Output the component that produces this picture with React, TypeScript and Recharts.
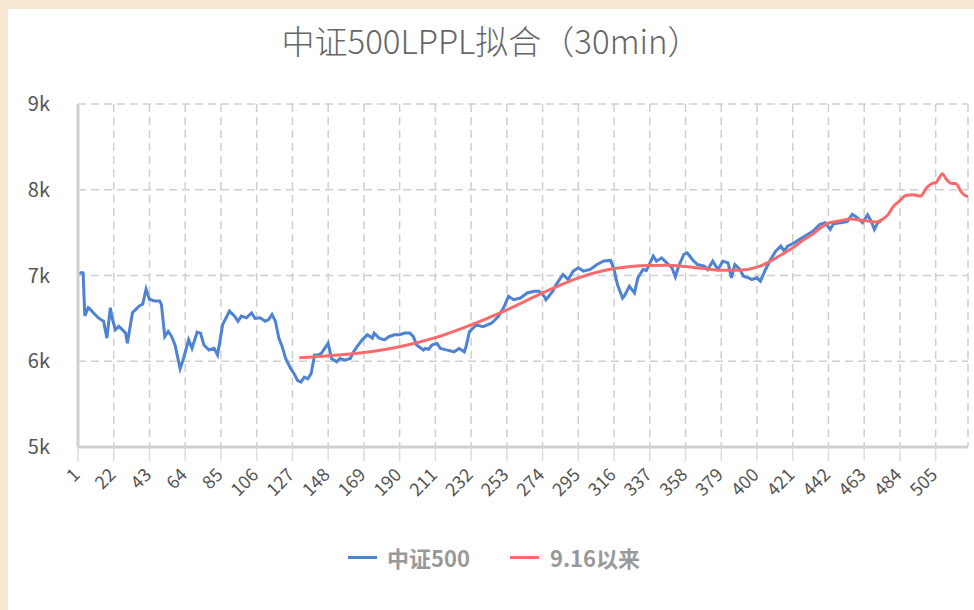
import React from 'react';
import { LineChart, Line, XAxis, YAxis, CartesianGrid, Legend } from 'recharts';

const FONT = '"Noto Sans CJK SC", "Noto Sans", sans-serif';

const TITLE = '中证500LPPL拟合（30min）';
const SERIES_BLUE = '中证500';
const SERIES_RED = '9.16以来';

const X_TICKS = [1, 22, 43, 64, 85, 106, 127, 148, 169, 190, 211, 232, 253, 274, 295, 316, 337, 358, 379, 400, 421, 442, 463, 484, 505];
const Y_TICKS = [5000, 6000, 7000, 8000, 9000];
const X_MAX = 524;

const blueIdx = [1, 3, 4, 5, 7, 8, 10, 13, 16, 18, 20, 21, 23, 25, 27, 29, 30, 33, 35, 37, 39, 41, 43, 46, 49, 50, 52, 54, 56, 58, 61, 63, 66, 68, 71, 73, 75, 78, 81, 83, 86, 90, 93, 95, 97, 100, 103, 105, 108, 111, 113, 115, 117, 119, 121, 123, 125, 126, 128, 130, 132, 134, 136, 138, 140, 142, 144, 146, 148, 150, 153, 155, 158, 161, 163, 165, 168, 171, 174, 175, 178, 181, 184, 187, 190, 193, 196, 198, 200, 204, 205, 207, 209, 212, 214, 218, 222, 225, 228, 229, 231, 235, 239, 244, 248, 251, 254, 257, 261, 265, 269, 272, 275, 276, 280, 282, 286, 289, 292, 295, 298, 302, 306, 310, 314, 316, 318, 321, 322, 325, 328, 330, 333, 335, 339, 341, 344, 347, 350, 352, 354, 357, 359, 362, 365, 369, 371, 374, 377, 380, 383, 385, 387, 390, 392, 395, 397, 400, 402, 405, 408, 411, 414, 416, 418, 422, 426, 430, 433, 435, 437, 440, 443, 445, 449, 453, 456, 459, 462, 465, 467, 469, 471, 473];
const blueVal = [7020, 7035, 7030, 6530, 6625, 6610, 6565, 6505, 6467, 6270, 6625, 6505, 6368, 6407, 6368, 6328, 6210, 6565, 6605, 6645, 6664, 6842, 6723, 6704, 6704, 6664, 6289, 6348, 6289, 6190, 5914, 6032, 6250, 6150, 6340, 6328, 6190, 6131, 6150, 6072, 6427, 6585, 6526, 6467, 6526, 6506, 6565, 6500, 6506, 6467, 6486, 6546, 6467, 6270, 6170, 6032, 5953, 5914, 5855, 5776, 5756, 5815, 5795, 5855, 6072, 6072, 6092, 6150, 6210, 6032, 5993, 6032, 6012, 6032, 6111, 6170, 6250, 6309, 6270, 6328, 6270, 6250, 6289, 6309, 6309, 6328, 6328, 6290, 6190, 6131, 6149, 6140, 6188, 6208, 6149, 6130, 6110, 6149, 6110, 6169, 6345, 6424, 6404, 6443, 6522, 6620, 6757, 6718, 6737, 6796, 6816, 6816, 6757, 6718, 6816, 6894, 7012, 6953, 7051, 7090, 7051, 7071, 7129, 7169, 7176, 7071, 6894, 6737, 6760, 6875, 6797, 6973, 7070, 7058, 7226, 7167, 7206, 7148, 7090, 6984, 7109, 7245, 7265, 7187, 7128, 7109, 7070, 7167, 7070, 7167, 7148, 6973, 7128, 7070, 6992, 6973, 6953, 6973, 6934, 7070, 7187, 7284, 7343, 7284, 7343, 7382, 7433, 7480, 7519, 7558, 7597, 7616, 7538, 7604, 7616, 7628, 7714, 7675, 7616, 7706, 7636, 7538, 7616, 7636];

const redIdx = [131, 148, 169, 190, 211, 232, 253, 274, 295, 316, 337, 347, 358, 369, 379, 390, 400, 406, 413, 421, 427, 433, 438, 442, 449, 455, 463, 470, 474, 477, 480, 484, 487, 492, 496, 500, 503, 505, 507, 509, 511, 514, 517, 520, 523, 524];
const redVal = [6040, 6063, 6102, 6169, 6275, 6424, 6600, 6796, 6973, 7082, 7118, 7120, 7105, 7081, 7062, 7062, 7097, 7147, 7227, 7323, 7410, 7485, 7565, 7610, 7640, 7658, 7640, 7625, 7660, 7710, 7800, 7873, 7930, 7942, 7925, 8030, 8075, 8082, 8137, 8188, 8130, 8075, 8070, 7975, 7925, 7922];

type Row = { x: number; csi?: number; fit?: number };
const buildRows = (): Row[] => {
  const map = new Map<number, Row>();
  blueIdx.forEach((x, i) => {
    const r = map.get(x) || { x };
    r.csi = blueVal[i];
    map.set(x, r);
  });
  redIdx.forEach((x, i) => {
    const r = map.get(x) || { x };
    r.fit = redVal[i];
    map.set(x, r);
  });
  return Array.from(map.values()).sort((a, b) => a.x - b.x);
};
const rows = buildRows();

const BLUE = '#4e82d2';
const RED = '#fa6a6c';

const XTick = (props: any) => {
  const { x, y, payload } = props;
  return (
    <g transform={`translate(${x + 3},${y})`}>
      <text x={0} y={0} textAnchor="end" transform="rotate(-45)" fill="#555" fontSize={18} fontFamily={FONT}>
        {payload.value}
      </text>
    </g>
  );
};

const renderLegend = () => (
  <div style={{ display: 'flex', alignItems: 'center', fontFamily: FONT, fontSize: 22, fontWeight: 700, color: '#999', height: 26, lineHeight: '26px', whiteSpace: 'nowrap' }}>
    <span style={{ display: 'inline-block', width: 29, height: 3, background: BLUE, marginRight: 10 }} />
    <span style={{ marginRight: 40 }}>{SERIES_BLUE}</span>
    <span style={{ display: 'inline-block', width: 29, height: 3, background: RED, marginRight: 11 }} />
    <span>{SERIES_RED}</span>
  </div>
);

export default function App() {
  return (
    <div style={{ position: 'fixed', left: 0, top: 0, width: 974, height: 610, background: '#f8e7d3', overflow: 'hidden' }}>
      <div style={{ position: 'absolute', left: 8, top: 9, width: 966, height: 601, background: '#fff' }}>
        <div style={{ position: 'absolute', left: 0, top: 12, width: 966, textAlign: 'center', fontFamily: FONT, fontSize: 33, fontWeight: 300, color: '#666', lineHeight: '38px', zIndex: 2 }}>
          {TITLE}
        </div>
        <LineChart width={966} height={601} data={rows} margin={{ top: 95, right: 6, bottom: 0, left: 0 }}>
          <CartesianGrid stroke="#cfcfcf" strokeDasharray="8 5" strokeWidth={1.5} />
          <XAxis
            dataKey="x"
            type="number"
            domain={[1, X_MAX]}
            ticks={X_TICKS}
            interval={0}
            height={163}
            tickSize={14}
            tickMargin={15}
            tickLine={{ stroke: '#ddd', strokeWidth: 1.5 }}
            axisLine={{ stroke: '#d0d0d0', strokeWidth: 3 }}
            tick={<XTick />}
            allowDataOverflow
          />
          <YAxis
            type="number"
            domain={[5000, 9000]}
            ticks={Y_TICKS}
            interval={0}
            width={70}
            tickSize={0}
            tickMargin={28}
            tickLine={false}
            axisLine={{ stroke: '#d0d0d0', strokeWidth: 3 }}
            tick={{ fill: '#555', fontSize: 20, fontFamily: FONT }}
            tickFormatter={(v: number) => `${v / 1000}k`}
          />
          <Legend
            verticalAlign="middle"
            align="center"
            layout="horizontal"
            wrapperStyle={{ top: 535, left: 340, width: 'auto', height: 26 }}
            content={renderLegend}
          />
          <Line type="linear" dataKey="csi" name={SERIES_BLUE} stroke={BLUE} strokeWidth={3} dot={false} connectNulls isAnimationActive={false} />
          <Line type="monotone" dataKey="fit" name={SERIES_RED} stroke={RED} strokeWidth={3} dot={false} connectNulls isAnimationActive={false} />
        </LineChart>
      </div>
    </div>
  );
}
